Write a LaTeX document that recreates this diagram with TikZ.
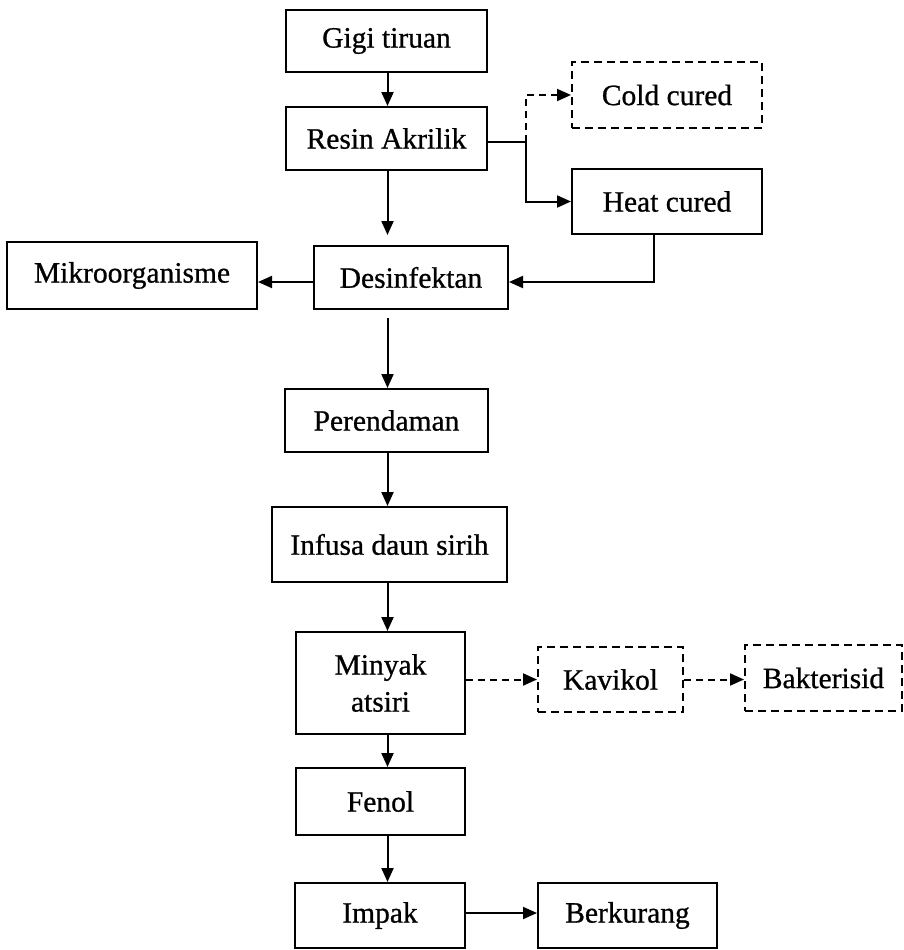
\documentclass[tikz,border=0pt]{standalone}
\usepackage{fontspec}
\setmainfont[FakeBold=0.8]{Liberation Serif}
\usetikzlibrary{arrows.meta}
\begin{document}
\begin{tikzpicture}[x=1pt,y=-1pt,
 box/.style={draw, line width=2pt, inner sep=0pt, align=center, font=\fontsize{29.5}{37}\selectfont},
 dbox/.style={box, dash pattern=on 8pt off 5pt},
 arr/.style={line width=2pt, -{Triangle[length=14pt,width=12pt]}},
 darr/.style={arr, dash pattern=on 7pt off 5pt},
 ln/.style={line width=2pt}]
\useasboundingbox (0,0) rectangle (903,950);
\node[box, minimum width=201pt, minimum height=62pt] (gigi) at (386.5,41) {Gigi tiruan};
\node[box, minimum width=201pt, minimum height=63pt] (resin) at (386.5,138.5) {Resin Akrilik};
\node[dbox, minimum width=190pt, minimum height=66pt] (cold) at (667,95) {Cold cured};
\node[box, minimum width=190pt, minimum height=65pt] (heat) at (667,201.5) {Heat cured};
\node[box, minimum width=250pt, minimum height=67pt] (mikro) at (132,275.5) {Mikroorganisme};
\node[box, minimum width=194pt, minimum height=63pt] (desinf) at (411,277.5) {Desinfektan};
\node[box, minimum width=203pt, minimum height=63pt] (perend) at (386.5,420.5) {Perendaman};
\node[box, minimum width=235pt, minimum height=75pt] (infusa) at (389.5,544.5) {Infusa daun sirih};
\node[box, minimum width=169pt, minimum height=102pt] (minyak) at (380.5,683) {Minyak\\atsiri};
\node[dbox, minimum width=145pt, minimum height=65pt] (kavikol) at (610.5,679.5) {Kavikol};
\node[dbox, minimum width=157pt, minimum height=66pt] (bakt) at (823.5,678) {Bakterisid};
\node[box, minimum width=169pt, minimum height=67pt] (fenol) at (380.5,801.5) {Fenol};
\node[box, minimum width=170pt, minimum height=65pt] (impak) at (380,915.5) {Impak};
\node[box, minimum width=179pt, minimum height=65pt] (berk) at (627.5,915.5) {Berkurang};
\coordinate (col) at (387.5,0);
\coordinate (br) at (526,142);
\coordinate (hx) at (654,282);
% main column
\draw[arr] (gigi.south -| col) -- (resin.north -| col);
\draw[arr] (resin.south -| col) -- ([yshift=10pt]desinf.north -| col);
\draw[arr] ([yshift=-8pt]desinf.south -| col) -- (perend.north -| col);
\draw[arr] (perend.south -| col) -- (infusa.north -| col);
\draw[arr] (infusa.south -| col) -- (minyak.north -| col);
\draw[arr] (minyak.south -| col) -- (fenol.north -| col);
\draw[arr] (fenol.south -| col) -- (impak.north -| col);
% branches
\draw[ln] (resin.east |- br) -- (br);
\draw[darr] (br) -- (br |- cold.west) -- (cold.west);
\draw[arr] (br) -- (br |- heat.west) -- (heat.west);
\draw[arr] (heat.south -| hx) -- (hx) -- (hx -| desinf.east);
\draw[arr] (desinf.west |- hx) -- (mikro.east |- hx);
\draw[darr] (minyak.east |- kavikol.west) -- (kavikol.west);
\draw[darr] (kavikol.east) -- (kavikol.east -| bakt.west);
\draw[arr] (impak.east |- 0,913) -- (berk.west |- 0,913);
\end{tikzpicture}
\end{document}
